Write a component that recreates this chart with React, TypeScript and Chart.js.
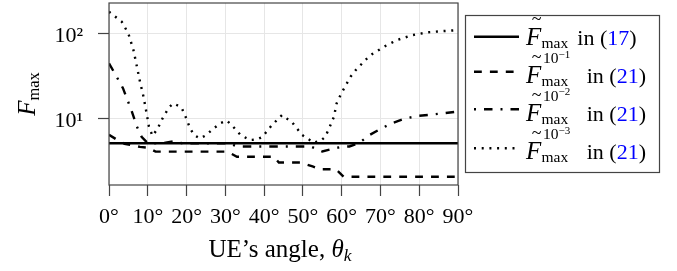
import React, { useEffect, useRef } from 'react';
import { Chart, registerables } from 'chart.js';

Chart.register(...registerables);

// ---- data ----
const xTickValues = [0, 10, 20, 30, 40, 50, 60, 70, 80, 90];
const yTickValues = [10, 100];
const yTickLabels = ['10¹', '10²'];

const boundAngles = [0, 90];
const boundValues = [5.07, 5.07];

const tol1Angles = [0, 2, 4, 6, 8, 10, 12, 30.5, 33, 42.5, 43.8, 49.5, 52.5, 54.5, 58.5, 60.5, 90];
const tol1Values = [6.4, 5.6, 5.0, 4.8, 4.6, 4.5, 4.04, 4.04, 3.52, 3.52, 3.0, 3.0, 2.7, 2.5, 2.5, 2.04, 2.04];

const tol2Angles = [0, 1.8, 3.6, 5.9, 7.2, 8.4, 10, 14, 16.5, 19, 31, 33, 52, 55, 58, 60, 62, 64.4, 67.2, 70.5, 73.4, 76.5, 80, 83.4, 90];
const tol2Values = [44.5, 32, 22.7, 12, 7.96, 6.06, 5.07, 5.1, 5.35, 5.07, 5.07, 4.65, 4.65, 4.05, 4.4, 4.6, 4.65, 5.07, 6.36, 7.7, 8.9, 10, 10.7, 11.1, 12];

const tol3Angles = [0, 3.3, 5, 6.3, 7.2, 8, 8.9, 9.7, 10.3, 11.2, 12.5, 14, 15.5, 16.6, 18, 18.8, 20, 20.9, 22, 23.5, 25, 27, 28.8, 30.4, 32, 34, 36.4, 38, 39.5, 42, 44.6, 47.2, 49.8, 52.8, 54.5, 55.8, 57.1, 58, 58.7, 59.7, 60.5, 62.3, 63.6, 64.9, 66.1, 67.9, 70.9, 74.3, 78.2, 82.1, 86, 90];
const tol3Values = [181, 138, 100, 64, 40.7, 27, 18, 11.4, 7.96, 6.2, 7.5, 10.4, 13.5, 15, 14, 13.1, 9.8, 7.6, 6.3, 5.8, 6.3, 7.6, 8.8, 9.4, 7.96, 6.3, 5.55, 5.6, 6.0, 8.3, 10.9, 8.97, 6.36, 5.15, 5.4, 6.06, 8.3, 10.4, 15, 18.8, 22, 31, 37, 42.6, 48.8, 57.4, 70, 84, 96, 103.5, 107, 110];

const legendExponents = ['', '−1', '−2', '−3'];
const legendRefs = ['17', '21', '21', '21'];

// ---- styles ----
const FONT = '"Liberation Serif", "Times New Roman", Times, serif';
const DASHES: number[][] = [[], [7.8, 8.1], [8.5, 8, 2, 8], [2, 5.7]];
const LEGEND_DASH_OFFSET = [0, 0, 16.5, 0];
const LINE_W = 2.4;
const FRAME = '#444';

const toPts = (xs: number[], ys: number[]) => xs.map((x, i) => ({ x, y: ys[i] }));

const framePlugin = {
  id: 'frame',
  afterDraw(chart: any) {
    const { ctx, chartArea } = chart;
    const { left, top, right, bottom } = chartArea;
    ctx.save();
    ctx.strokeStyle = FRAME;
    ctx.lineWidth = 1.2;
    ctx.strokeRect(left, top, right - left, bottom - top);
    ctx.restore();
  },
};

export default function App() {
  const ref = useRef<HTMLCanvasElement | null>(null);

  useEffect(() => {
    if (!ref.current) return;
    const series = [
      toPts(boundAngles, boundValues),
      toPts(tol1Angles, tol1Values),
      toPts(tol2Angles, tol2Values),
      toPts(tol3Angles, tol3Values),
    ];
    const chart = new Chart(ref.current, {
      type: 'line',
      data: {
        datasets: series.map((d, i) => ({
          data: d,
          borderColor: '#000',
          borderWidth: LINE_W,
          borderDash: DASHES[i],
          borderCapStyle: 'butt',
          pointRadius: 0,
          tension: 0,
          fill: false,
        })),
      },
      options: {
        animation: false,
        responsive: false,
        devicePixelRatio: 1,
        layout: { padding: { left: 0, right: 219, top: 3, bottom: 0 } },
        plugins: { legend: { display: false }, tooltip: { enabled: false } },
        scales: {
          x: {
            type: 'linear',
            min: 0,
            max: 90,
            afterBuildTicks: (s: any) => {
              s.ticks = xTickValues.map((v) => ({ value: v }));
            },
            afterFit: (s: any) => {
              s.height = 86;
              s.paddingLeft = 0;
              s.paddingRight = 0;
            },
            ticks: {
              autoSkip: false,
              maxRotation: 0,
              padding: 8,
              color: '#000',
              font: { family: FONT, size: 22 },
              callback: (v: any) => v + '°',
            },
            grid: { color: '#e6e6e6', lineWidth: 1, tickColor: FRAME, tickLength: 11, tickWidth: 1.2 },
            border: { display: false },
          },
          y: {
            type: 'logarithmic',
            min: 1.63,
            max: 230,
            afterBuildTicks: (s: any) => {
              s.ticks = yTickValues.map((v) => ({ value: v }));
            },
            afterFit: (s: any) => {
              s.width = 109;
              s.paddingTop = 0;
              s.paddingBottom = 0;
            },
            ticks: {
              padding: 15,
              labelOffset: 3,
              color: '#000',
              font: { family: FONT, size: 22 },
              callback: (v: any) => {
                const i = yTickValues.indexOf(Number(v));
                return i >= 0 ? yTickLabels[i] : '';
              },
            },
            grid: { color: '#e6e6e6', lineWidth: 1, tickColor: FRAME, tickLength: 11, tickWidth: 1.2 },
            border: { display: false },
          },
        },
      } as any,
      plugins: [framePlugin],
    });
    return () => chart.destroy();
  }, []);

  const rowLineY = [36.7, 71.7, 109.3, 148.3];
  const rowBase = [45, 83.3, 120.7, 159.4];

  return (
    <div style={{ position: 'relative', width: 677, height: 271, overflow: 'hidden' }}>
      <style>{'body{margin:0}'}</style>
      <canvas ref={ref} width={677} height={271} style={{ position: 'absolute', left: 0, top: 0, display: 'block' }} />
      <svg width={677} height={271} style={{ position: 'absolute', left: 0, top: 0 }} fontFamily={FONT}>
        {/* y-axis title */}
        <text transform="translate(35,94) rotate(-90)" textAnchor="middle" fontSize={25}>
          <tspan fontStyle="italic">F</tspan>
          <tspan fontSize={16.5} dy={3.5}>max</tspan>
        </text>
        {/* x-axis title */}
        <text x={280} y={257} textAnchor="middle" fontSize={25}>
          UE’s angle, <tspan fontStyle="italic">θ</tspan>
          <tspan fontStyle="italic" fontSize={17.5} dy={4}>k</tspan>
        </text>
        {/* legend */}
        <rect x={465.5} y={15.5} width={194} height={157} fill="#fff" stroke={FRAME} strokeWidth={1.2} />
        {rowLineY.map((ly, i) => {
          const b = rowBase[i];
          const hasSup = legendExponents[i] !== '';
          return (
            <g key={i}>
              <line x1={474} x2={519} y1={ly} y2={ly} stroke="#000" strokeWidth={LINE_W}
                strokeDasharray={DASHES[i].length ? DASHES[i].join(' ') : undefined}
                strokeDashoffset={LEGEND_DASH_OFFSET[i]} />
              <text x={526} y={b} fontSize={25} fontStyle="italic">F</text>
              <text x={536.5} y={b - 20} fontSize={18} textAnchor="middle">~</text>
              {hasSup && (
                <text x={543} y={b - 20} fontSize={15.5}>
                  10<tspan fontSize={11} dy={-5.5}>{legendExponents[i]}</tspan>
                </text>
              )}
              <text x={541.5} y={b + 3} fontSize={15.5}>max</text>
              <text x={hasSup ? 586.7 : 577.3} y={b} fontSize={22}>
                in (<tspan fill="#0000ff">{legendRefs[i]}</tspan>)
              </text>
            </g>
          );
        })}
      </svg>
    </div>
  );
}
